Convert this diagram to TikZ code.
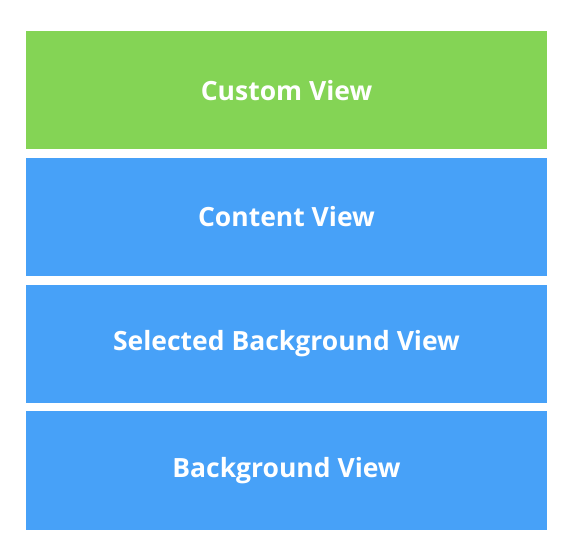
\documentclass[tikz,border=0pt]{standalone}
\usepackage{fontspec}
\setmainfont{Open Sans}
\usetikzlibrary{positioning}
\definecolor{customgreen}{HTML}{84D455}
\definecolor{layerblue}{HTML}{47A1F8}

\begin{document}
\begin{tikzpicture}[node distance=7.9pt,
  layer/.style={rectangle,fill=#1,text=white,font=\bfseries\fontsize{26.5}{30}\selectfont,
    minimum width=521pt,minimum height=118.5pt,inner sep=0pt}]
 % \draw[help lines] (0,0) grid (3,2);
  \useasboundingbox (0,0) rectangle (578pt,-556pt);
  \node[layer=customgreen] (custom) at (286.5pt,-90.25pt) {Custom View};
  \node[layer=layerblue] (content) [below=of custom] {Content View};
  \node[layer=layerblue] (selected) [below=of content] {Selected Background View};
  \node[layer=layerblue] (background) [below=of selected] {Background View};
 \end{tikzpicture}
\end{document}
